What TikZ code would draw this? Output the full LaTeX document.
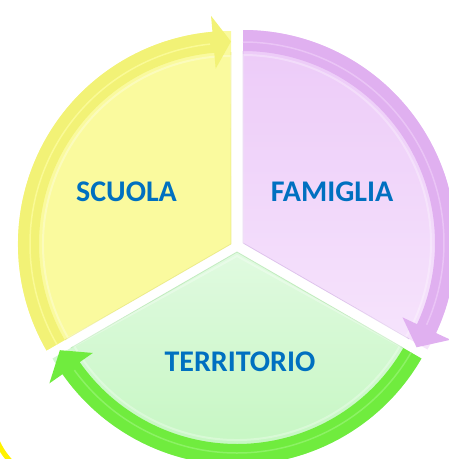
\documentclass[tikz,border=0pt]{standalone}
\usepackage{fontspec}
\newfontfamily\labfont{Carlito}
\usetikzlibrary{calc}
\definecolor{yfill}{RGB}{250,250,158}
\definecolor{yband}{RGB}{242,242,118}
\definecolor{yhi}{RGB}{250,250,150}
\definecolor{yedge}{RGB}{225,225,110}
\definecolor{pfilltop}{RGB}{236,202,248}
\definecolor{pfillbot}{RGB}{246,228,252}
\definecolor{pband}{RGB}{224,176,240}
\definecolor{phi}{RGB}{234,196,246}
\definecolor{pedge}{RGB}{205,170,225}
\definecolor{gfilltop}{RGB}{224,250,224}
\definecolor{gfillbot}{RGB}{192,246,188}
\definecolor{gband}{RGB}{112,236,62}
\definecolor{ghi}{RGB}{140,242,100}
\definecolor{gedge}{RGB}{170,225,165}
\definecolor{labblue}{RGB}{0,112,192}
\tikzset{
  lab/.style={font=\labfont\bfseries\fontsize{30}{36}\selectfont, text=labblue, inner sep=0pt},
  bevel/.style={draw=white, draw opacity=0.3, line width=2pt},
  edge/.style={line width=0.8pt, draw opacity=0.6},
}
\begin{document}
\begin{tikzpicture}[x=1pt,y=1pt]
\useasboundingbox (0,0) rectangle (449,-459);
% yellow fragment bottom left
\draw[yellow, line width=5pt] (-3,-441) to[bend right=8] (11,-462);
% ---------- yellow sector ----------
\begin{scope}[shift={(231,-244)}]
  \fill[yfill] (0,0) -- (210:213pt) arc[start angle=210,end angle=90,radius=213pt] -- cycle;
  \draw[edge, draw=yedge] (0,0) -- (210:192pt) (0,0) -- (90:192pt);
  \draw[bevel] (2,-4) -- (210:188pt) arc[start angle=210,end angle=90,radius=188pt] -- cycle;
  \fill[yband] (210:192pt) arc[start angle=210,end angle=95,radius=192pt]
     -- (95:176pt) -- (90:202.5pt) -- (95:229pt) -- (95:213pt)
     arc[start angle=95,end angle=210,radius=213pt] -- cycle;
  \draw[yhi, line width=1.5pt] (210:201pt) arc[start angle=210,end angle=96,radius=201pt];
\end{scope}
% ---------- pink sector ----------
\begin{scope}[shift={(243,-243)}]
  \shade[top color=pfilltop, bottom color=pfillbot] (0,0) -- (90:213pt) arc[start angle=90,end angle=-30,radius=213pt] -- cycle;
  \draw[edge, draw=pedge] (0,0) -- (90:192pt) (0,0) -- (-30:192pt);
  \draw[bevel] (0,-4) -- (90:188pt) arc[start angle=90,end angle=-30,radius=188pt] -- cycle;
  \fill[pband] (90:192pt) arc[start angle=90,end angle=-25,radius=192pt]
     -- (-25:176pt) -- (-31:202.5pt) -- (-25:229pt) -- (-25:213pt)
     arc[start angle=-25,end angle=90,radius=213pt] -- cycle;
  \draw[phi, line width=1.5pt] (90:201pt) arc[start angle=90,end angle=-24,radius=201pt];
\end{scope}
% ---------- green sector ----------
\begin{scope}[shift={(237,-252)}]
  \shade[top color=gfilltop, bottom color=gfillbot] (0,0) -- (-30:213pt) arc[start angle=-30,end angle=-150,radius=213pt] -- cycle;
  \draw[edge, draw=gedge] (0,0) -- (-30:192pt) (0,0) -- (-150:192pt);
  \draw[bevel] (0,-4) -- (-30:188pt) arc[start angle=-30,end angle=-150,radius=188pt] -- cycle;
  \fill[gband] (-30:192pt) arc[start angle=-30,end angle=-145,radius=192pt]
     -- (-145:176pt) -- (-151:202.5pt) -- (-145:229pt) -- (-145:213pt)
     arc[start angle=-145,end angle=-30,radius=213pt] -- cycle;
  \draw[ghi, line width=1.5pt] (-30:201pt) arc[start angle=-30,end angle=-144,radius=201pt];
\end{scope}
% labels
\node[lab] (scuola) at (126.5,-192) {SCUOLA};
\node[lab] (famiglia) at (332,-192) {FAMIGLIA};
\node[lab] (territorio) at (240,-362) {TERRITORIO};
\end{tikzpicture}
\end{document}
